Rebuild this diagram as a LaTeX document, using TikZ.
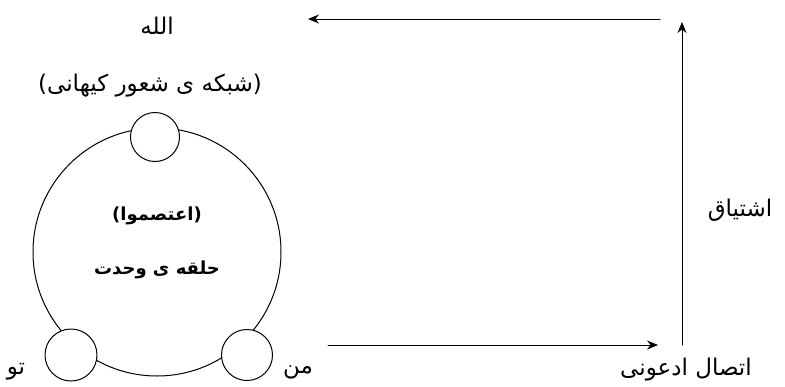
\documentclass[tikz,border=0pt]{standalone}
\usepackage{fontspec}
\newfontfamily\arabicfont[Script=Arabic]{DejaVu Sans}
\TeXXeTstate=1
\usetikzlibrary{arrows.meta}
\begin{document}
\begin{tikzpicture}[x=1pt,y=-1pt,line join=round,line cap=round,>={Stealth[length=11pt,width=9pt]},line width=1pt]
	\tikzset{every node/.style={font=\arabicfont\fontsize{23}{26}\selectfont,inner sep=1pt},
		bold/.style={font=\arabicfont\bfseries\fontsize{18}{20}\selectfont},
		ring/.style={draw,circle,fill=white,inner sep=0pt}}
	\useasboundingbox (0,0) rectangle (785,386);
	% the circle of unity
	\node[ring,minimum size=248pt] (halqe) at (157,252) {};
	\node[ring,minimum size=49pt] (topc) at (155,137) {};
	\node[ring,minimum size=52pt] (leftc) at (71,355) {};
	\node[ring,minimum size=51pt] (rightc) at (247,355) {};
	% texts
	\node (allah) at (157,26) {\beginR الله\endR};
	\node (shabake) at (150,86) {\beginR (شبکه ی شعور کیهانی)\endR};
	\node[bold] (etesamu) at (157,216) {\beginR (اعتصموا)\endR};
	\node[bold] (vahdat) at (157,270) {\beginR حلقه ی وحدت\endR};
	\node (to) at (16,372) {\beginR تو\endR};
	\node (man) at (298,372) {\beginR من\endR};
	\node (etesal) at (686,370) {\beginR اتصال ادعونی\endR};
	\node (eshtiyagh) at (740,210) {\beginR اشتیاق\endR};
	% arrows
	\coordinate (p1) at (328,345);
	\coordinate (p2) at (658,345);
	\coordinate (p3) at (682,22);
	\coordinate (p4) at (660,19);
	\coordinate (p5) at (308,19);
	\draw[->] (p1) -- (p2);
	\draw[->] (682,345) -- (p3);
	\draw[->] (p4) -- (p5);
\end{tikzpicture}
\end{document}
